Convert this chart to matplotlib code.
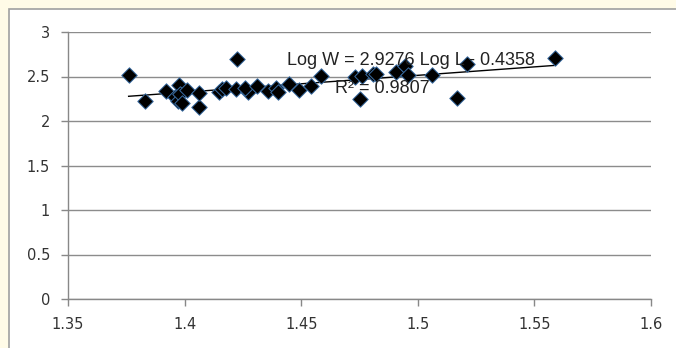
import numpy as np
import matplotlib
matplotlib.use("Agg")
import matplotlib.pyplot as plt
from matplotlib.patches import Rectangle

log_l = [1.376, 1.383, 1.392, 1.396, 1.397, 1.3975, 1.398, 1.399, 1.401, 1.406,
         1.406, 1.4146, 1.416, 1.4176, 1.4223, 1.4219, 1.427, 1.426, 1.431, 1.4356,
         1.439, 1.440, 1.4446, 1.449, 1.454, 1.4587, 1.473, 1.475, 1.476, 1.481,
         1.482, 1.4908, 1.4943, 1.496, 1.5062, 1.517, 1.521, 1.559]
log_w = [2.52, 2.22, 2.34, 2.27, 2.23, 2.40, 2.30, 2.20, 2.35, 2.16,
         2.32, 2.33, 2.36, 2.37, 2.70, 2.36, 2.33, 2.37, 2.39, 2.34,
         2.37, 2.33, 2.42, 2.35, 2.39, 2.51, 2.49, 2.25, 2.51, 2.53,
         2.53, 2.55, 2.62, 2.52, 2.52, 2.26, 2.64, 2.71]
x_ticks = [1.35, 1.4, 1.45, 1.5, 1.55, 1.6]
x_tick_labels = ["1.35", "1.4", "1.45", "1.5", "1.55", "1.6"]
y_ticks = [0, 0.5, 1, 1.5, 2, 2.5, 3]
y_tick_labels = ["0", "0.5", "1", "1.5", "2", "2.5", "3"]
equation = "Log W = 2.9276 Log L - 0.4358"
r2_text = "R² = 0.9807"

W, H = 676, 348
fig = plt.figure(figsize=(W / 100, H / 100), dpi=100, facecolor="#FFFBE7")
bg = fig.add_axes([0, 0, 1, 1], zorder=-5)
bg.set_xlim(0, W)
bg.set_ylim(H, 0)
bg.axis("off")
bg.add_patch(Rectangle((9, 9), W, H, facecolor="white", edgecolor="#A0A0A0",
                       linewidth=1.2))

ax = fig.add_axes([68 / W, 1 - 299 / H, (651 - 68) / W, (299 - 32) / H], zorder=1)
ax.set_facecolor("none")
ax.set_xlim(1.35, 1.6)
ax.set_ylim(0, 3)
ax.set_xticks(x_ticks)
ax.set_xticklabels(x_tick_labels)
ax.set_yticks(y_ticks)
ax.set_yticklabels(y_tick_labels)
for s in ["top", "right"]:
    ax.spines[s].set_visible(False)
for s in ["left", "bottom"]:
    ax.spines[s].set_color("#888888")
    ax.spines[s].set_linewidth(1.0)
ax.yaxis.grid(True, color="#8C8C8C", linewidth=1.0)
ax.set_axisbelow(True)
ax.tick_params(axis="both", colors="#888888", labelcolor="#333333", length=5,
               width=1.0, labelsize=10.5, pad=8)

ax.scatter(log_l, log_w, marker="D", s=62, facecolor="black", edgecolor="#3A6EA5",
           linewidth=0.7, zorder=3)

coef = np.polyfit(log_l, log_w, 1)
xs = np.array([min(log_l), max(log_l)])
ax.plot(xs, np.polyval(coef, xs), color="black", linewidth=1.0, zorder=2)

ax.text(1.4437, 2.685, equation, fontsize=13, family="Liberation Sans", color="#222222",
        ha="left", va="center", zorder=4)
ax.text(1.4643, 2.37, r2_text, fontsize=13, family="Liberation Sans", color="#222222",
        ha="left", va="center", zorder=4)

fig.savefig("out.png", dpi=100, facecolor=fig.get_facecolor())
